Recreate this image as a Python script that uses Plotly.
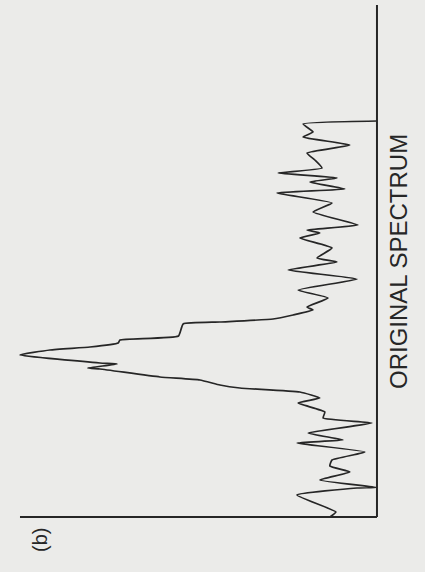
import plotly.graph_objects as go

# Spectrum trace: channel number and relative intensity (peak ~100)
channel = [0, 1.25, 5.5, 7.25, 7.4, 9.25, 11.25, 12.75, 14.25, 16.25, 18.5, 19.25, 21,
           23.5, 24.75, 26.25, 28.5, 29.75, 31.25, 32.25, 33, 34.25, 35, 37, 37.25,
           38.25, 38.5, 40.5, 41.75, 42.5, 43.5, 44.25, 45.25, 48.25, 48.75, 49.5,
           50.5, 51.75, 52.5, 54.75, 56.75, 59.5, 61.75, 63.75, 64.75, 67.25, 69.75,
           71, 71.75, 73, 76.25, 78.5, 81, 82, 83.75, 84.75, 86, 87.25, 89.25, 91,
           93, 95, 96.25, 98.25, 99]
intensity = [13.2, 11.5, 22.4, 5.6, 0.3, 16.0, 7.6, 13.2, 12.6, 3.4, 22.4, 9.5, 19.3,
             1.4, 15.1, 14.6, 22.1, 16.0, 21.6, 38.4, 44.0, 49.6, 60.8, 77.6, 81.0,
             72.8, 77.6, 100.0, 91.6, 80.4, 72.5, 72.0, 55.6, 54.3, 44.0, 29.1,
             23.5, 17.9, 19.6, 13.7, 22.1, 5.6, 24.9, 11.2, 16.8, 12.6, 21.6,
             16.0, 19.6, 5.3, 17.9, 12.6, 28.0, 9.0, 18.8, 11.2, 27.7, 15.4, 17.4, 19.6,
             7.6, 20.7, 17.9, 20.7, 0.0]

# Axis extents in data units
channel_axis_end = 128
intensity_axis_end = 100

title_text = "ORIGINAL SPECTRUM"
panel_label = "(b)"

ink = "#262626"
paper = "#ebebe9"
W, H = 425, 572

fig = go.Figure()
fig.add_trace(go.Scatter(
    x=intensity, y=channel, mode="lines",
    line=dict(color=ink, width=1.7, shape="spline", smoothing=0.4),
    hoverinfo="skip", showlegend=False,
))

# Channel axis (vertical) and intensity axis (horizontal)
fig.add_shape(type="line", xref="x", yref="y", x0=0, x1=0, y0=0, y1=channel_axis_end,
              line=dict(color=ink, width=2))
fig.add_shape(type="line", xref="x", yref="y", x0=0, x1=intensity_axis_end, y0=0, y1=0,
              line=dict(color=ink, width=2))


def label(text, px, py, size):
    # px, py: label centre in pixels from the top-left corner
    fig.add_annotation(text=text, x=px / W, y=1 - py / H, xref="paper", yref="paper",
                       xanchor="center", yanchor="middle",
                       showarrow=False, textangle=-90,
                       font=dict(family="Liberation Sans", size=size, color=ink))


label(title_text, 398, 262, 24)
label(panel_label, 40, 540, 20)

fig.update_layout(
    width=W, height=H,
    margin=dict(l=0, r=0, t=0, b=0),
    paper_bgcolor=paper, plot_bgcolor=paper,
    xaxis=dict(range=[105.6, -13.45], visible=False),
    yaxis=dict(range=[-13.75, 129.25], visible=False),
)

fig.write_html("out.html")
